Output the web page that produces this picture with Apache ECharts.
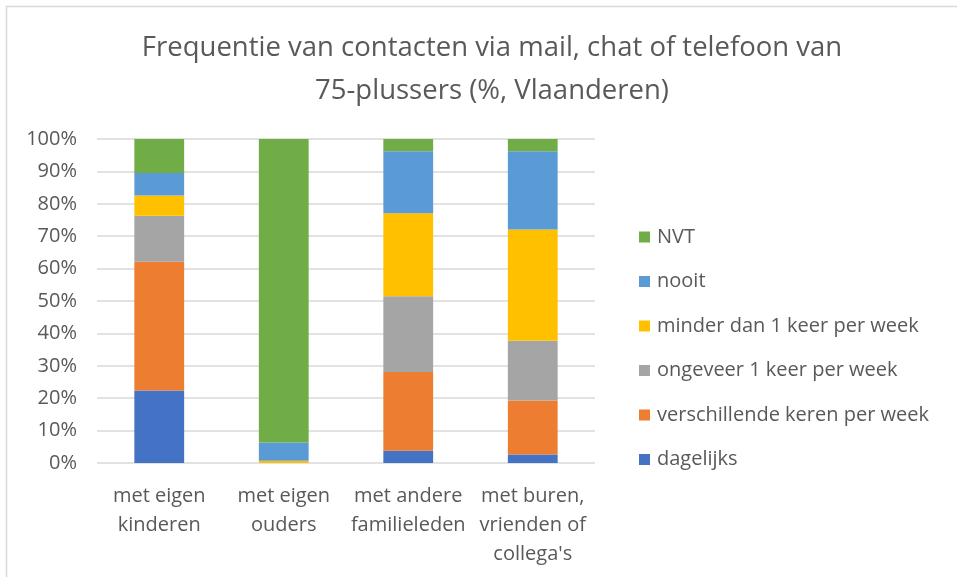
<!DOCTYPE html>
<html>
<head>
<meta charset="utf-8">
<script src="https://cdn.jsdelivr.net/npm/echarts@6/dist/echarts.min.js"></script>
<style>
  html, body { margin: 0; padding: 0; background: #fff; }
  #main { width: 957px; height: 577px; }
</style>
</head>
<body>
<div id="main"></div>
<script>
var categories = ['met eigen\nkinderen', 'met eigen\nouders', 'met andere\nfamilieleden', 'met buren,\nvrienden of\ncollega\'s'];
var seriesNames = ['dagelijks', 'verschillende keren per week', 'ongeveer 1 keer per week', 'minder dan 1 keer per week', 'nooit', 'NVT'];
var dagelijks = [22.4, 0, 3.8, 2.6];
var verschillende = [39.7, 0, 24.3, 16.7];
var ongeveer = [14.2, 0, 23.4, 18.4];
var minder = [6.3, 0.7, 25.6, 34.4];
var nooit = [6.9, 5.6, 19.1, 24.1];
var nvt = [10.5, 93.7, 3.8, 3.8];
var yTicks = [0, 10, 20, 30, 40, 50, 60, 70, 80, 90, 100];
var colors = ['#4472C4', '#ED7D31', '#A5A5A5', '#FFC000', '#5B9BD5', '#70AD47'];

var font = '"Open Sans", sans-serif';
var values = [dagelijks, verschillende, ongeveer, minder, nooit, nvt];
var series = seriesNames.map(function (name, i) {
    return {
        name: name,
        type: 'bar',
        stack: 'total',
        barWidth: '40%',
        itemStyle: { color: colors[i] },
        data: values[i]
    };
});

var myChart = echarts.init(document.getElementById('main'));
myChart.setOption({
    animation: false,
    textStyle: { fontFamily: font },
    // only top and left edge of the frame are visible in the original
    graphic: [{
        type: 'polyline',
        shape: { points: [[6.5, 577], [6.5, 6.5], [957, 6.5]] },
        style: { fill: 'none', stroke: '#d9d9d9', lineWidth: 1.5 },
        silent: true
    }],
    title: {
        text: 'Frequentie van contacten via mail, chat of telefoon van\n75-plussers (%, Vlaanderen)',
        left: 487,
        textAlign: 'center',
        top: 22,
        textStyle: { fontFamily: font, fontSize: 27.5, fontWeight: 'normal', color: '#595959', lineHeight: 43 }
    },
    legend: {
        orient: 'vertical',
        left: 634,
        top: 222,
        itemWidth: 11,
        itemHeight: 11,
        itemGap: 24.5,
        icon: 'rect',
        data: seriesNames.slice().reverse(),
        textStyle: { fontFamily: font, fontSize: 20, color: '#595959', padding: [0, 0, 0, 2] }
    },
    grid: { left: 97, right: 362, top: 139, bottom: 114 },
    xAxis: {
        type: 'category',
        data: categories,
        axisLine: { show: false },
        axisTick: { show: false },
        axisLabel: { fontFamily: font, fontSize: 20, color: '#595959', lineHeight: 29, margin: 19, interval: 0 }
    },
    yAxis: {
        type: 'value',
        min: 0,
        max: 100,
        interval: 10,
        axisLabel: {
            fontFamily: font, fontSize: 20, color: '#595959', margin: 20,
            formatter: function (v) { return yTicks.indexOf(v) >= 0 ? v + '%' : ''; }
        },
        splitLine: { lineStyle: { color: '#d9d9d9', width: 1.5 } },
        axisLine: { show: false },
        axisTick: { show: false }
    },
    series: series
});
</script>
</body>
</html>
